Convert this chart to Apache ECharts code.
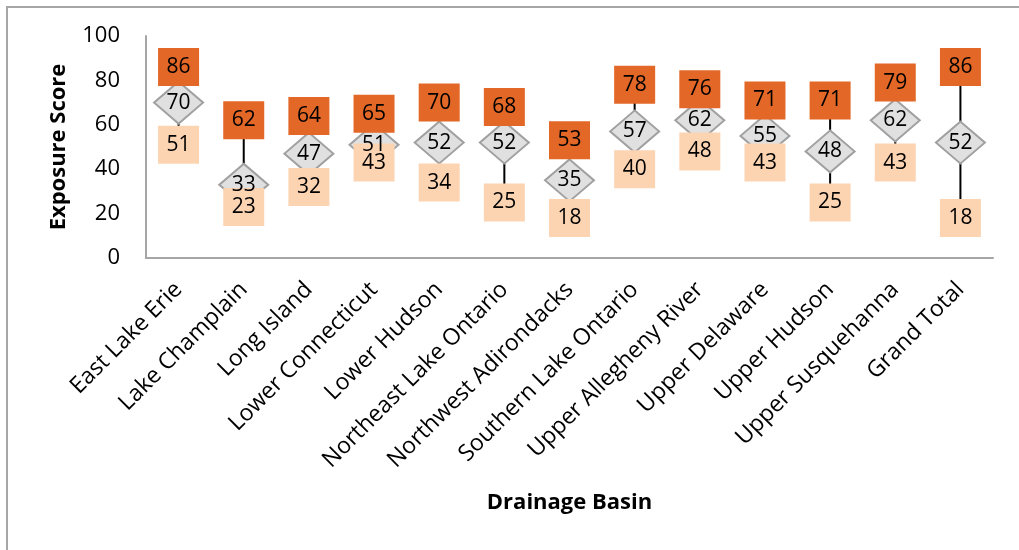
<!DOCTYPE html>
<html>
<head>
<meta charset="utf-8">
<script src="https://cdn.jsdelivr.net/npm/echarts@6/dist/echarts.min.js"></script>
<style>
  html, body { margin: 0; padding: 0; background: #ffffff; }
  #chart { width: 1019px; height: 550px; }
</style>
</head>
<body>
<div id="chart"></div>
<script>
const basins = ['East Lake Erie', 'Lake Champlain', 'Long Island', 'Lower Connecticut', 'Lower Hudson',
  'Northeast Lake Ontario', 'Northwest Adirondacks', 'Southern Lake Ontario', 'Upper Allegheny River',
  'Upper Delaware', 'Upper Hudson', 'Upper Susquehanna', 'Grand Total'];
const maxScores = [86, 62, 64, 65, 70, 68, 53, 78, 76, 71, 71, 79, 86];
const meanScores = [70, 33, 47, 51, 52, 52, 35, 57, 62, 55, 48, 62, 52];
const minScores = [51, 23, 32, 43, 34, 25, 18, 40, 48, 43, 25, 43, 18];
const yTicks = [0, 20, 40, 60, 80, 100];

const fontFamily = '"Open Sans", sans-serif';

const chart = echarts.init(document.getElementById('chart'));

const boxLabel = {
  show: true,
  position: 'inside',
  color: '#000000',
  fontSize: 21,
  fontFamily: fontFamily
};

chart.setOption({
  animation: false,
  textStyle: { fontFamily: fontFamily },
  graphic: [{
    type: 'rect',
    shape: { x: 7, y: 7, width: 1040, height: 580 },
    style: { fill: 'none', stroke: '#a6a6a6', lineWidth: 2 },
    silent: true
  }],
  grid: {
    left: 146,
    right: 26,
    top: 36,
    bottom: 292
  },
  xAxis: {
    type: 'category',
    data: basins,
    name: 'Drainage Basin',
    nameLocation: 'middle',
    nameGap: 234,
    nameTextStyle: { fontSize: 22, fontWeight: 'bold', color: '#000000' },
    axisLine: { lineStyle: { color: '#a6a6a6', width: 2 } },
    axisTick: { show: false },
    axisLabel: {
      rotate: 45,
      margin: 28,
      interval: 0,
      fontSize: 23,
      color: '#000000'
    }
  },
  yAxis: {
    type: 'value',
    min: yTicks[0],
    max: yTicks[yTicks.length - 1],
    interval: 20,
    name: 'Exposure Score',
    nameLocation: 'middle',
    nameGap: 76,
    nameTextStyle: { fontSize: 22, fontWeight: 'bold', color: '#000000' },
    axisLine: { show: true, lineStyle: { color: '#a6a6a6', width: 2 } },
    axisTick: { show: false },
    splitLine: { show: false },
    axisLabel: { fontSize: 22, color: '#000000', margin: 26 }
  },
  series: [{
    name: 'Range',
    type: 'custom',
    data: basins.map((b, i) => [i, minScores[i], maxScores[i]]),
    renderItem: (params, api) => {
      const lo = api.coord([api.value(0), api.value(1)]);
      const hi = api.coord([api.value(0), api.value(2)]);
      return {
        type: 'line',
        shape: { x1: lo[0], y1: lo[1], x2: hi[0], y2: hi[1] },
        style: { stroke: '#000000', lineWidth: 2 }
      };
    },
    encode: { x: 0, y: [1, 2] }
  }, {
    name: 'Mean',
    type: 'scatter',
    data: meanScores,
    symbol: 'diamond',
    symbolSize: [49, 42],
    itemStyle: { color: '#e0e0e0', borderColor: '#a0a0a0', borderWidth: 2, opacity: 1 },
    label: boxLabel
  }, {
    name: 'Min',
    type: 'scatter',
    data: minScores,
    symbol: 'rect',
    symbolSize: [41, 38],
    itemStyle: { color: '#fcd4b2', opacity: 1 },
    label: boxLabel
  }, {
    name: 'Max',
    type: 'scatter',
    data: maxScores,
    symbol: 'rect',
    symbolSize: [41, 38],
    itemStyle: { color: '#e36726', opacity: 1 },
    label: boxLabel
  }]
});
</script>
</body>
</html>
